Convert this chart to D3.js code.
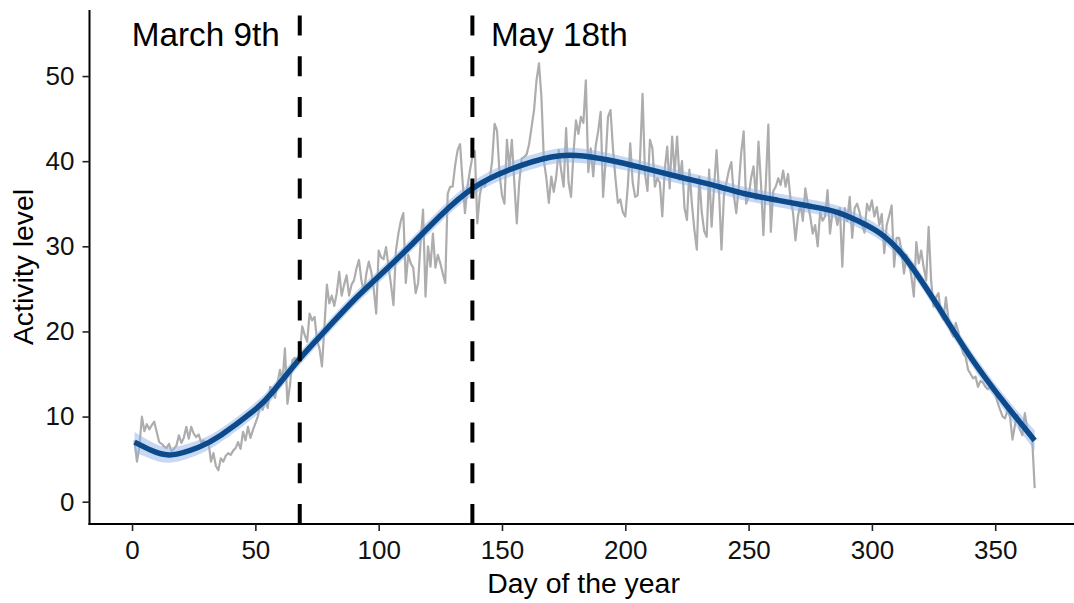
<!DOCTYPE html>
<html>
<head>
<meta charset="utf-8">
<script src="https://cdn.jsdelivr.net/npm/d3@7"></script>
<style>
  html, body { margin: 0; padding: 0; background: #ffffff; }
  svg { display: block; }
  text { font-family: "Liberation Sans", Arial, Helvetica, sans-serif; }
</style>
</head>
<body>
<svg id="chart" width="1074" height="603"></svg>
<script>
// Daily activity level, day 1 .. 366
const activity = [
  7.2, 4.7, 6.5, 10.0, 8.3, 9.1, 8.5, 9.0, 9.4, 8.2,
  7.0, 6.8, 6.5, 6.3, 6.8, 5.9, 6.2, 6.6, 7.8, 6.9,
  7.5, 8.8, 7.4, 8.8, 8.0, 7.6, 7.9, 7.0, 7.2, 6.6,
  7.0, 4.7, 5.7, 4.2, 3.7, 5.1, 4.7, 5.4, 5.7, 5.5,
  6.0, 6.3, 7.0, 6.2, 8.2, 7.2, 8.8, 7.5, 8.4, 9.2,
  10.0, 11.4, 10.8, 12.0, 11.0, 13.5, 12.8, 12.2, 14.0, 15.5,
  14.2, 18.0, 11.5, 13.6, 16.6, 16.9, 16.2, 17.5, 20.6, 19.6,
  18.8, 22.1, 21.3, 21.7, 19.0, 18.0, 15.9, 20.5, 25.5, 23.3,
  24.2, 23.0, 24.5, 27.0, 24.2, 25.5, 26.6, 24.2, 25.5, 26.0,
  27.4, 28.4, 26.0, 24.6, 26.8, 28.2, 27.0, 25.0, 22.1, 29.5,
  28.7, 28.5, 29.9, 27.6, 25.5, 23.1, 29.5, 31.5, 33.0, 33.9,
  25.7, 29.0, 28.0, 27.5, 24.5, 25.7, 30.5, 34.3, 24.1, 30.0,
  27.6, 31.5, 27.5, 29.0, 28.0, 26.8, 25.7, 36.2, 37.0, 37.0,
  39.5, 41.3, 42.0, 37.7, 33.9, 37.0, 38.9, 40.5, 41.2, 32.7,
  36.0, 37.5, 37.0, 37.8, 37.8, 40.0, 44.4, 43.6, 38.5, 36.0,
  35.0, 42.5, 39.2, 42.5, 37.5, 32.7, 37.5, 40.3, 40.5, 40.8,
  42.0, 44.0, 46.0, 49.5, 51.5, 47.5, 40.0, 38.0, 35.1, 38.2,
  36.4, 38.2, 41.3, 38.9, 37.0, 43.9, 37.5, 35.8, 41.0, 44.8,
  43.2, 45.2, 44.5, 49.5, 38.7, 41.5, 38.2, 41.8, 43.5, 45.8,
  35.8, 40.0, 45.2, 46.0, 41.5, 38.0, 35.1, 35.5, 34.0, 33.5,
  37.0, 42.1, 37.5, 35.8, 36.0, 40.5, 47.9, 38.5, 36.5, 42.5,
  41.5, 37.0, 38.0, 37.5, 33.5, 39.0, 41.7, 36.8, 42.9, 38.5,
  42.9, 37.8, 40.0, 34.5, 33.1, 39.0, 35.0, 32.0, 29.6, 38.2,
  34.0, 31.8, 31.1, 39.0, 32.3, 37.0, 41.3, 36.5, 29.6, 36.0,
  37.5, 38.9, 39.9, 36.0, 33.9, 37.0, 41.0, 43.5, 35.0, 35.8,
  38.0, 39.4, 35.5, 42.3, 37.5, 31.3, 37.5, 44.3, 31.7, 36.5,
  37.0, 38.0, 37.2, 38.9, 37.0, 38.5, 35.5, 34.0, 30.7, 33.5,
  35.0, 33.0, 36.8, 35.0, 33.5, 31.5, 32.5, 30.0, 34.0, 33.0,
  33.5, 36.6, 31.5, 34.0, 34.0, 32.5, 34.5, 27.6, 34.5, 33.0,
  35.8, 31.0, 34.5, 35.0, 34.0, 32.5, 31.6, 35.0, 34.2, 35.4,
  33.5, 34.6, 32.5, 33.8, 29.2, 32.5, 33.6, 34.8, 27.6, 31.0,
  31.0, 29.5, 26.8, 29.0, 28.0, 26.5, 24.1, 30.5, 28.0, 29.5,
  27.5, 26.0, 32.3, 26.0, 22.9, 24.0, 24.5, 22.0, 21.4, 24.0,
  21.5, 20.0, 19.4, 21.0, 20.0, 18.5, 17.4, 17.0, 15.5, 15.0,
  14.5, 14.7, 13.5, 14.2, 14.0, 13.5, 13.2, 13.5, 13.0, 12.7,
  11.6, 10.8, 10.0, 9.8, 10.8, 10.0, 7.3, 9.0, 10.2, 8.5,
  7.8, 10.4, 8.5, 7.8, 7.3, 1.6
];

// Smoothed trend and its confidence half-width, sampled along the year
const smoothDay = [1, 8, 16, 27, 36, 49, 57, 68, 79, 90, 102, 113, 125, 138, 153, 170,
                   183, 197, 210, 224, 238, 248, 262, 275, 286, 295, 303, 313, 326, 340, 354, 366];
const smoothFit = [7.0, 6.0, 5.5, 6.4, 7.8, 10.6, 12.9, 16.8, 20.3, 23.7, 27.0, 30.1, 33.6, 36.8, 39.0, 40.5,
                   40.6, 39.9, 39.0, 38.0, 37.0, 36.2, 35.4, 34.7, 34.0, 32.9, 31.6, 28.8, 23.3, 17.0, 11.5, 7.2];
const smoothCI  = [1.2, 1.0, 0.9, 0.85, 0.8, 0.8, 0.8, 0.75, 0.75, 0.75, 0.75, 0.75, 0.8, 0.8, 0.85, 0.85,
                   0.85, 0.8, 0.8, 0.8, 0.8, 0.8, 0.8, 0.8, 0.8, 0.8, 0.8, 0.8, 0.8, 0.85, 0.9, 1.2];

// Marked dates
const eventDays   = [68, 138];
const eventLabels = ["March 9th", "May 18th"];

// Axis ticks
const xTicks = [0, 50, 100, 150, 200, 250, 300, 350];
const yTicks = [0, 10, 20, 30, 40, 50];

const series = activity.map((v, i) => ({ day: i + 1, value: v }));
const smooth = smoothDay.map((d, i) => ({ day: d, fit: smoothFit[i], ci: smoothCI[i] }));

const svg = d3.select("#chart");
const panel = { left: 89.5, right: 1079.7, top: 10, bottom: 524 };

const x = d3.scaleLinear().domain([-17.25, 384.25]).range([panel.left, panel.right]);
const y = d3.scaleLinear().domain([-2.62, 57.76]).range([panel.bottom, panel.top]);

// Raw daily series
svg.append("path")
  .datum(series)
  .attr("fill", "none")
  .attr("stroke", "#adadad")
  .attr("stroke-width", 2.2)
  .attr("stroke-linejoin", "round")
  .attr("d", d3.line().x(d => x(d.day)).y(d => y(d.value)));

// Confidence band around the trend
svg.append("path")
  .datum(smooth)
  .attr("fill", "#8fb3e6")
  .attr("fill-opacity", 0.5)
  .attr("d", d3.area()
    .curve(d3.curveNatural)
    .x(d => x(d.day))
    .y0(d => y(d.fit - d.ci))
    .y1(d => y(d.fit + d.ci)));

// Trend line
svg.append("path")
  .datum(smooth)
  .attr("fill", "none")
  .attr("stroke", "#0c4a8c")
  .attr("stroke-width", 5.5)
  .attr("stroke-linecap", "butt")
  .attr("d", d3.line().curve(d3.curveNatural).x(d => x(d.day)).y(d => y(d.fit)));

// Vertical dashed markers, drawn upward from the x axis
svg.selectAll("line.event")
  .data(eventDays)
  .join("line")
  .attr("class", "event")
  .attr("x1", d => x(d)).attr("x2", d => x(d))
  .attr("y1", panel.bottom).attr("y2", panel.top)
  .attr("stroke", "#000")
  .attr("stroke-width", 4)
  .attr("stroke-dasharray", "20,20.7");

// Event labels: first to the left of its line, second to the right
svg.selectAll("text.event")
  .data(eventDays)
  .join("text")
  .attr("class", "event")
  .attr("x", (d, i) => i === 0 ? x(d) - 20 : x(d) + 18.5)
  .attr("y", y(54.9))
  .attr("dy", "0.35em")
  .attr("text-anchor", (d, i) => i === 0 ? "end" : "start")
  .attr("font-size", 33.3)
  .attr("fill", "#000")
  .text((d, i) => eventLabels[i]);

// Axes
const xAxis = svg.append("g")
  .attr("transform", `translate(0,${panel.bottom})`)
  .call(d3.axisBottom(x).tickValues(xTicks).tickSize(7).tickPadding(10).tickSizeOuter(0));
const yAxis = svg.append("g")
  .attr("transform", `translate(${panel.left},0)`)
  .call(d3.axisLeft(y).tickValues(yTicks).tickSize(7).tickPadding(8).tickSizeOuter(0));

[xAxis, yAxis].forEach(g => {
  g.select(".domain").attr("stroke", "#000").attr("stroke-width", 2);
  g.selectAll(".tick line").attr("stroke", "#222").attr("stroke-width", 1.6);
  g.selectAll(".tick text")
    .attr("font-family", "'Liberation Sans', Arial, Helvetica, sans-serif")
    .attr("font-size", 26)
    .attr("fill", "#111");
});

// Extend the axis lines so they meet at the corner
xAxis.select(".domain").attr("d", `M${panel.left - 1},0H${panel.right}`);
yAxis.select(".domain").attr("d", `M0,${panel.top}V${panel.bottom + 1}`);

// Axis titles
svg.append("text")
  .attr("x", (panel.left + panel.right) / 2 - 1)
  .attr("y", 593)
  .attr("text-anchor", "middle")
  .attr("font-size", 28.4)
  .attr("fill", "#000")
  .text("Day of the year");

svg.append("text")
  .attr("transform", `translate(33,${(panel.top + panel.bottom) / 2}) rotate(-90)`)
  .attr("text-anchor", "middle")
  .attr("font-size", 28.4)
  .attr("fill", "#000")
  .text("Activity level");
</script>
</body>
</html>
